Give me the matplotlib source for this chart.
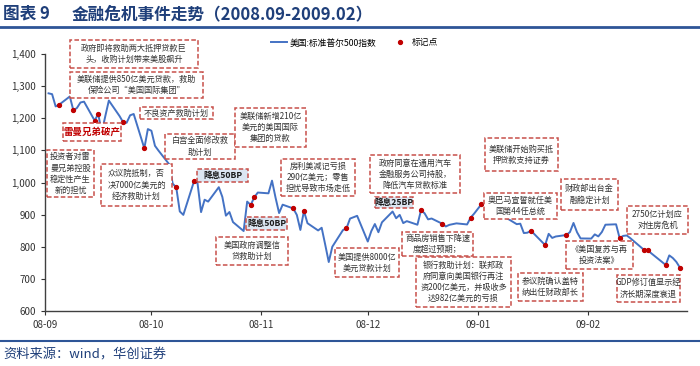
import matplotlib
matplotlib.use("Agg")
import matplotlib.pyplot as plt
from matplotlib.patches import Rectangle
from matplotlib.lines import Line2D
import pandas as pd

plt.rcParams['font.family'] = ['Noto Sans CJK SC', 'DejaVu Sans']

# S&P 500 daily close, 2008-09 .. 2009-02
sep = [("2008-09-02", 1277.58), ("2008-09-03", 1274.98), ("2008-09-04", 1236.83),
       ("2008-09-05", 1242.31), ("2008-09-08", 1267.79), ("2008-09-09", 1224.51),
       ("2008-09-10", 1232.04), ("2008-09-11", 1249.05), ("2008-09-12", 1251.70),
       ("2008-09-15", 1192.70), ("2008-09-16", 1213.60), ("2008-09-17", 1156.39),
       ("2008-09-18", 1206.51), ("2008-09-19", 1255.08), ("2008-09-22", 1207.09),
       ("2008-09-23", 1188.22), ("2008-09-24", 1185.87), ("2008-09-25", 1209.18),
       ("2008-09-26", 1213.27), ("2008-09-29", 1106.42), ("2008-09-30", 1166.36)]
oct_ = [("2008-10-01", 1161.06), ("2008-10-02", 1114.28), ("2008-10-03", 1099.23),
        ("2008-10-06", 1056.89), ("2008-10-07", 996.23), ("2008-10-08", 984.94),
        ("2008-10-09", 909.92), ("2008-10-10", 899.22), ("2008-10-13", 1003.35),
        ("2008-10-14", 998.01), ("2008-10-15", 907.84), ("2008-10-16", 946.43),
        ("2008-10-17", 940.55), ("2008-10-20", 985.40), ("2008-10-21", 955.05),
        ("2008-10-22", 896.78), ("2008-10-23", 908.11), ("2008-10-24", 876.77),
        ("2008-10-27", 848.92), ("2008-10-28", 940.51), ("2008-10-29", 930.09),
        ("2008-10-30", 954.09), ("2008-10-31", 968.75)]
nov = [("2008-11-03", 966.30), ("2008-11-04", 1005.75), ("2008-11-05", 952.77),
       ("2008-11-06", 904.88), ("2008-11-07", 930.99), ("2008-11-10", 919.21),
       ("2008-11-11", 898.95), ("2008-11-12", 852.30), ("2008-11-13", 911.29),
       ("2008-11-14", 873.29), ("2008-11-17", 850.75), ("2008-11-18", 859.12),
       ("2008-11-19", 806.58), ("2008-11-20", 752.44), ("2008-11-21", 800.03),
       ("2008-11-24", 851.81), ("2008-11-25", 857.39), ("2008-11-26", 887.68),
       ("2008-11-28", 896.24)]
dec = [("2008-12-01", 816.21), ("2008-12-02", 848.81), ("2008-12-03", 870.74),
       ("2008-12-04", 845.22), ("2008-12-05", 876.07), ("2008-12-08", 909.70),
       ("2008-12-09", 888.67), ("2008-12-10", 899.24), ("2008-12-11", 873.59),
       ("2008-12-12", 879.73), ("2008-12-15", 868.57), ("2008-12-16", 913.18),
       ("2008-12-17", 904.42), ("2008-12-18", 885.28), ("2008-12-19", 887.88),
       ("2008-12-22", 871.63), ("2008-12-23", 863.16), ("2008-12-24", 868.15),
       ("2008-12-26", 872.80), ("2008-12-29", 869.42), ("2008-12-30", 890.64),
       ("2008-12-31", 903.25)]
jan = [("2009-01-02", 931.80), ("2009-01-05", 927.45), ("2009-01-06", 934.70),
       ("2009-01-07", 906.65), ("2009-01-08", 909.73), ("2009-01-09", 890.35),
       ("2009-01-12", 870.26), ("2009-01-13", 871.79), ("2009-01-14", 842.62),
       ("2009-01-15", 843.74), ("2009-01-16", 850.12), ("2009-01-20", 805.22),
       ("2009-01-21", 840.24), ("2009-01-22", 827.50), ("2009-01-23", 831.95),
       ("2009-01-26", 836.57), ("2009-01-27", 845.71), ("2009-01-28", 874.09),
       ("2009-01-29", 845.14), ("2009-01-30", 825.88)]
feb = [("2009-02-02", 825.44), ("2009-02-03", 838.51), ("2009-02-04", 832.23),
       ("2009-02-05", 845.85), ("2009-02-06", 868.60), ("2009-02-09", 869.89),
       ("2009-02-10", 827.16), ("2009-02-11", 833.74), ("2009-02-12", 835.19),
       ("2009-02-13", 826.84), ("2009-02-17", 789.17), ("2009-02-18", 788.42),
       ("2009-02-19", 778.94), ("2009-02-20", 770.05), ("2009-02-23", 743.33),
       ("2009-02-24", 773.14), ("2009-02-25", 764.90), ("2009-02-26", 752.83),
       ("2009-02-27", 735.09)]

# event days marked with red dots
marker_dates = ["2008-09-05", "2008-09-09", "2008-09-15", "2008-09-16", "2008-09-23",
                "2008-09-29", "2008-10-08", "2008-10-13", "2008-10-29", "2008-10-30",
                "2008-11-10", "2008-11-13", "2008-11-25", "2008-12-16", "2008-12-22",
                "2008-12-30", "2009-01-02", "2009-01-16", "2009-01-20", "2009-01-26",
                "2009-02-10", "2009-02-17", "2009-02-18", "2009-02-23", "2009-02-27"]

yticks = [600, 700, 800, 900, 1000, 1100, 1200, 1300, 1400]
month_ticks = ["2008-09-01", "2008-10-01", "2008-11-01", "2008-12-01",
               "2009-01-01", "2009-02-01"]
month_labels = ["08-09", "08-10", "08-11", "08-12", "09-01", "09-02"]

events = ["政府即将救助两大抵押贷款巨\n头，收购计划带来美股飙升",
          "美联储提供850亿美元贷款，救助\n保险公司“美国国际集团”",
          "不良资产救助计划",
          "雷曼兄弟破产",
          "投资者对雷\n曼兄弟控股\n稳定性产生\n新的担忧",
          "白宫全面修改救\n助计划",
          "众议院抵制，否\n决7000亿美元的\n经济救助计划",
          "降息50BP",
          "美联储新增210亿\n美元的美国国际\n集团的贷款",
          "房利美减记亏损\n290亿美元；零售\n担忧导致市场走低",
          "降息50BP",
          "美国政府调整信\n贷救助计划",
          "美国提供8000亿\n美元贷款计划",
          "政府同意在通用汽车\n金融服务公司持股，\n降低汽车贷款标准",
          "降息25BP",
          "美联储开始购买抵\n押贷款支持证券",
          "奥巴马宣誓就任美\n国第44任总统",
          "财政部出台金\n融稳定计划",
          "2750亿计划应\n对住房危机",
          "《美国复苏与再\n投资法案》",
          "GDP修订值显示经\n济长期深度衰退",
          "参议院确认盖特\n纳出任财政部长",
          "商品房销售下降速\n度超过预期；",
          "银行救助计划：联邦政\n府同意向美国银行再注\n资200亿美元，并吸收多\n达982亿美元的亏损"]

# box layout in pixels (x0, y0, x1, y1) and style, same order as events
boxes = [(70, 40, 198, 68, "n"), (70, 72, 203, 98, "n"), (140, 107, 213, 119, "n"),
         (63, 123, 121, 141, "red"), (47, 150, 94, 197, "n"), (165, 134, 235, 159, "n"),
         (101, 164, 172, 206, "n"), (197, 169, 248, 182, "cut"), (235, 108, 306, 147, "n"),
         (281, 159, 355, 196, "n"), (246, 217, 287, 230, "cut"), (216, 237, 288, 265, "n"),
         (335, 248, 399, 277, "n"), (370, 155, 460, 193, "n"), (375, 197, 413, 208, "cut"),
         (485, 138, 558, 171, "n"), (484, 193, 557, 219, "n"), (561, 179, 618, 210, "n"),
         (627, 206, 688, 234, "n"), (566, 241, 633, 269, "n"), (617, 275, 680, 302, "n"),
         (518, 273, 583, 301, "n"), (402, 232, 473, 256, "n"), (416, 257, 511, 307, "n")]

s = pd.Series(dict(sep + oct_ + nov + dec + jan + feb))
s.index = pd.to_datetime(s.index)
marks = s.loc[pd.to_datetime(marker_dates)]

W, H = 700, 366
fig = plt.figure(figsize=(W / 100, H / 100), dpi=100)
ax = fig.add_axes([45 / W, 1 - 311 / H, 642 / W, 257 / H])

line_c = "#4472C4"
red = "#C00000"
ax.plot(s.index, s.values, color=line_c, lw=1.4, zorder=2)
ax.plot(marks.index, marks.values, 'o', color=red, ms=2.8, zorder=3)

ax.set_xlim(pd.Timestamp("2008-09-01"), pd.Timestamp("2009-03-01"))
ax.set_ylim(600, 1400)
ax.set_yticks(yticks)
ax.set_yticklabels([f"{v:,}" for v in yticks])
ax.set_xticks(pd.to_datetime(month_ticks))
ax.set_xticklabels(month_labels)
for sp in ["top", "right"]:
    ax.spines[sp].set_visible(False)
for sp in ["left", "bottom"]:
    ax.spines[sp].set_color("#404040")
    ax.spines[sp].set_linewidth(1.0)
ax.tick_params(labelsize=7, colors="#333333", length=3, width=0.8, direction="out")

handles = [Line2D([], [], color=line_c, lw=1.4),
           Line2D([], [], ls="none", marker="o", color=red, ms=2.8)]
ax.legend(handles, ["美国:标准普尔500指数", "标记点"], ncol=2, frameon=False,
          loc="center", bbox_to_anchor=(0.482, 1.043), fontsize=6.3,
          handlelength=1.8, handletextpad=0.4, columnspacing=1.8)

# event boxes
for (x0, y0, x1, y1, kind), txt in zip(boxes, events):
    face = "#DCE6F2" if kind == "cut" else "white"
    fig.add_artist(Rectangle((x0 / W, 1 - y1 / H), (x1 - x0) / W, (y1 - y0) / H,
                             transform=fig.transFigure, facecolor=face,
                             edgecolor="#C8504A", lw=1.1, ls=(0, (3, 1.5)), zorder=4))
    kw = dict(color="#333333", fontsize=5.9)
    if kind == "red":
        kw = dict(color=red, fontsize=6.8, fontweight="bold")
    elif kind == "cut":
        kw = dict(color="#1a1a1a", fontsize=6.2, fontweight="bold")
    fig.text((x0 + x1) / 2 / W, 1 - (y0 + y1) / 2 / H, txt, ha="center", va="center",
             linespacing=1.3, zorder=5, **kw)

# header and footer
navy = "#1F3F7A"
fig.text(3 / W, 1 - 14 / H, "图表 9", fontsize=12, fontweight="bold", color=navy, va="center")
fig.text(72 / W, 1 - 14 / H, "金融危机事件走势（2008.09-2009.02）", fontsize=12,
         fontweight="bold", color=navy, va="center")
fig.add_artist(Line2D([0, 1], [1 - 27 / H, 1 - 27 / H], color="#2E5597", lw=2,
                      transform=fig.transFigure))
fig.add_artist(Line2D([0, 1], [1 - 341 / H, 1 - 341 / H], color="#2E5597", lw=1.5,
                      transform=fig.transFigure))
fig.text(3 / W, 1 - 355 / H, "资料来源：wind，华创证券", fontsize=9.5, color=navy,
         style="italic", va="center")

fig.savefig("out.png", dpi=100)
